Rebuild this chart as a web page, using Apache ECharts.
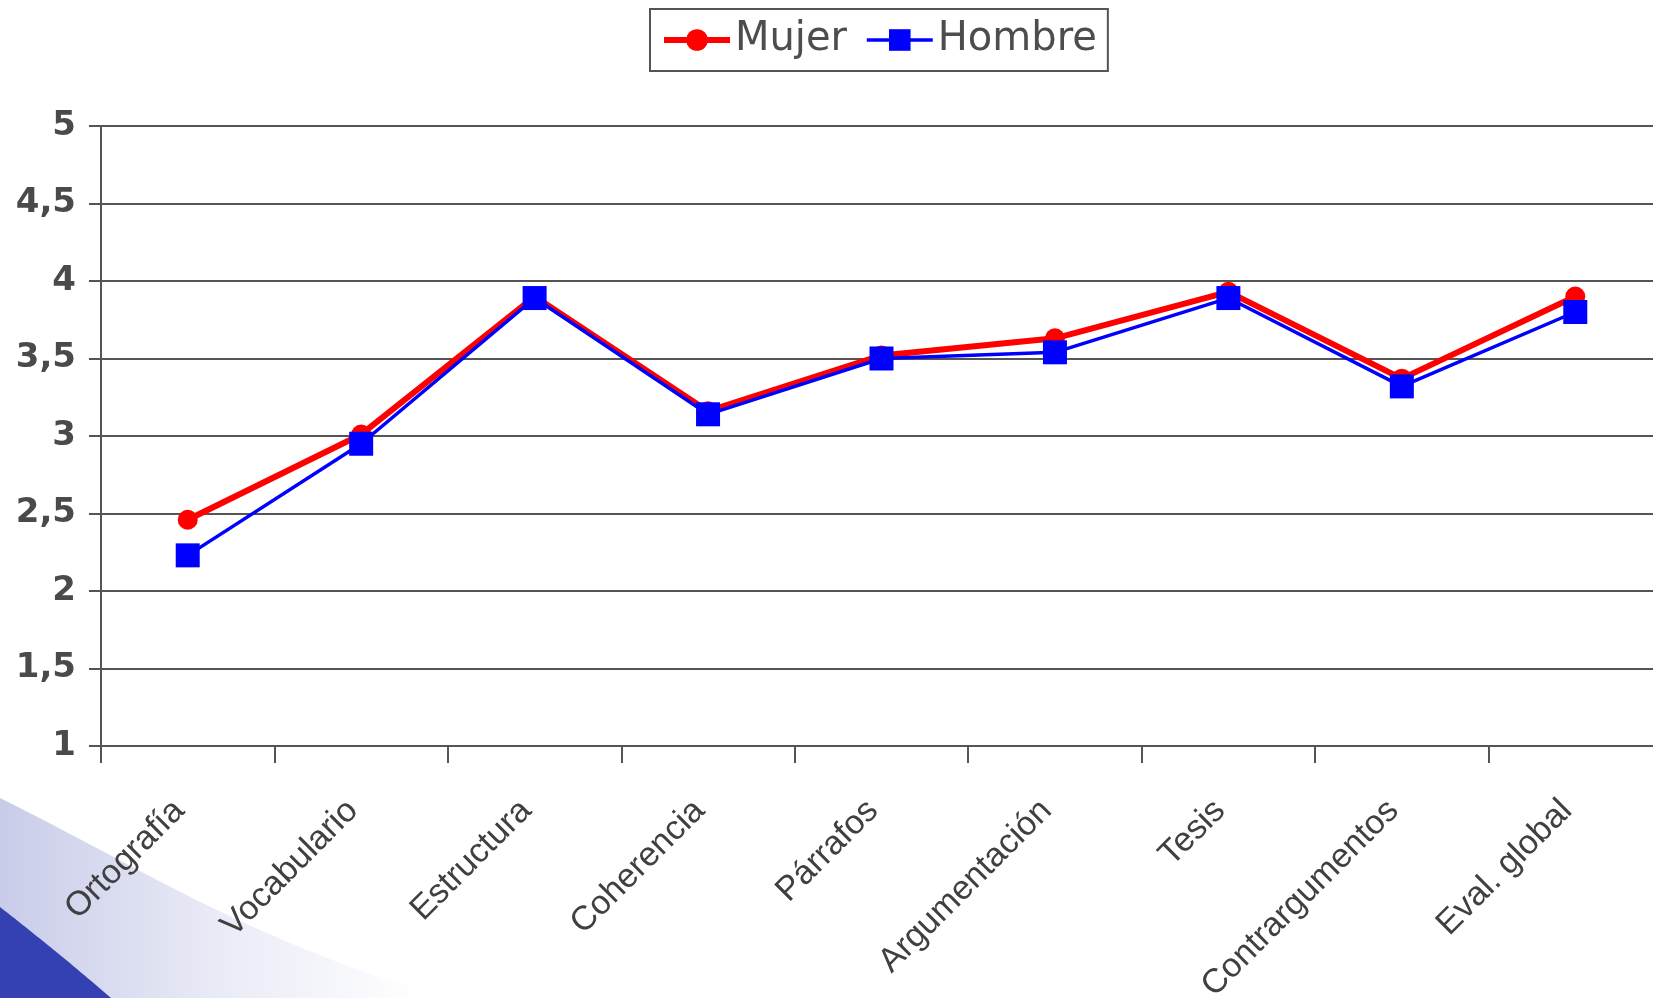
<!DOCTYPE html>
<html>
<head>
<meta charset="utf-8">
<script src="https://cdn.jsdelivr.net/npm/echarts@6/dist/echarts.min.js"></script>
<style>
  html, body { margin: 0; padding: 0; background: #fff; }
  #chart { width: 1653px; height: 998px; }
</style>
</head>
<body>
<div id="chart"></div>
<script>
// categorías y promedios
const categorias = ['Ortografía', 'Vocabulario', 'Estructura', 'Coherencia', 'Párrafos',
    'Argumentación', 'Tesis', 'Contrargumentos', 'Eval. global'];
const mujer = [2.46, 3.01, 3.90, 3.16, 3.52, 3.63, 3.93, 3.37, 3.90];
const hombre = [2.23, 2.95, 3.89, 3.14, 3.50, 3.54, 3.89, 3.32, 3.80];
const ejeY = { min: 1, max: 5, paso: 0.5 };

const gris = '#555555';

// curva de la decoración de la esquina (cúbica de Bezier muestreada)
function curva(p0, p1, p2, p3, cierre) {
    let pts = [];
    for (let i = 0; i <= 30; i++) {
        let t = i / 30, u = 1 - t;
        pts.push([
            u * u * u * p0[0] + 3 * u * u * t * p1[0] + 3 * u * t * t * p2[0] + t * t * t * p3[0],
            u * u * u * p0[1] + 3 * u * u * t * p1[1] + 3 * u * t * t * p2[1] + t * t * t * p3[1]
        ]);
    }
    return pts.concat(cierre);
}

let option = {
    animation: false,
    backgroundColor: '#ffffff',
    graphic: [
        {
            type: 'polygon',
            z: -100,
            silent: true,
            shape: { points: curva([0, 798], [130, 862], [240, 935], [420, 990], [[420, 998], [0, 998]]) },
            style: {
                fill: {
                    type: 'linear', x: 0, y: 0, x2: 1, y2: 0,
                    colorStops: [
                        { offset: 0, color: '#c9cce9' },
                        { offset: 0.5, color: '#e8eaf6' },
                        { offset: 1, color: '#ffffff' }
                    ]
                }
            }
        },
        {
            type: 'polygon',
            z: -99,
            silent: true,
            shape: { points: curva([0, 907], [37, 936], [73, 965], [111, 998], [[0, 998]]) },
            style: { fill: '#3341b2' }
        }
    ],
    legend: {
        left: 650,
        top: 9,
        padding: [11, 11],
        itemGap: 18,
        itemWidth: 66,
        itemHeight: 27,
        borderColor: gris,
        borderWidth: 2,
        textStyle: {
            fontFamily: 'DejaVu Sans',
            fontSize: 40,
            color: '#4d4d4d'
        },
        data: [
            { name: 'Mujer', lineStyle: { width: 6, color: '#ff0000' } },
            { name: 'Hombre', lineStyle: { width: 3.5, color: '#0000ff' } }
        ]
    },
    grid: {
        left: 101,
        top: 126,
        right: -9,
        bottom: 252,
        containLabel: false,
        outerBoundsMode: 'none'
    },
    xAxis: {
        type: 'category',
        data: categorias,
        boundaryGap: true,
        axisLine: { lineStyle: { color: gris, width: 2 } },
        axisTick: { show: true, length: 17, lineStyle: { color: gris, width: 2 } },
        axisLabel: {
            interval: 0,
            rotate: 45,
            margin: 51,
            padding: [0, 12, 0, 0],
            fontFamily: 'Liberation Sans',
            fontSize: 34,
            color: '#404040'
        }
    },
    yAxis: {
        type: 'value',
        min: ejeY.min,
        max: ejeY.max,
        interval: ejeY.paso,
        axisLine: { show: true, lineStyle: { color: gris, width: 2 } },
        axisTick: { show: true, length: 12, lineStyle: { color: gris, width: 2 } },
        splitLine: { lineStyle: { color: gris, width: 2 } },
        axisLabel: {
            margin: 25,
            fontFamily: 'DejaVu Sans',
            fontWeight: 'bold',
            fontSize: 34,
            color: '#4a4a4a',
            formatter: v => String(v).replace('.', ',')
        }
    },
    series: [
        {
            name: 'Mujer',
            type: 'line',
            data: mujer,
            symbol: 'circle',
            symbolSize: 20,
            itemStyle: { color: '#ff0000' },
            lineStyle: { color: '#ff0000', width: 6 }
        },
        {
            name: 'Hombre',
            type: 'line',
            data: hombre,
            symbol: 'rect',
            symbolSize: 24,
            itemStyle: { color: '#0000ff' },
            lineStyle: { color: '#0000ff', width: 3.5 }
        }
    ]
};

var myChart = echarts.init(document.getElementById('chart'));
myChart.setOption(option);
</script>
</body>
</html>
